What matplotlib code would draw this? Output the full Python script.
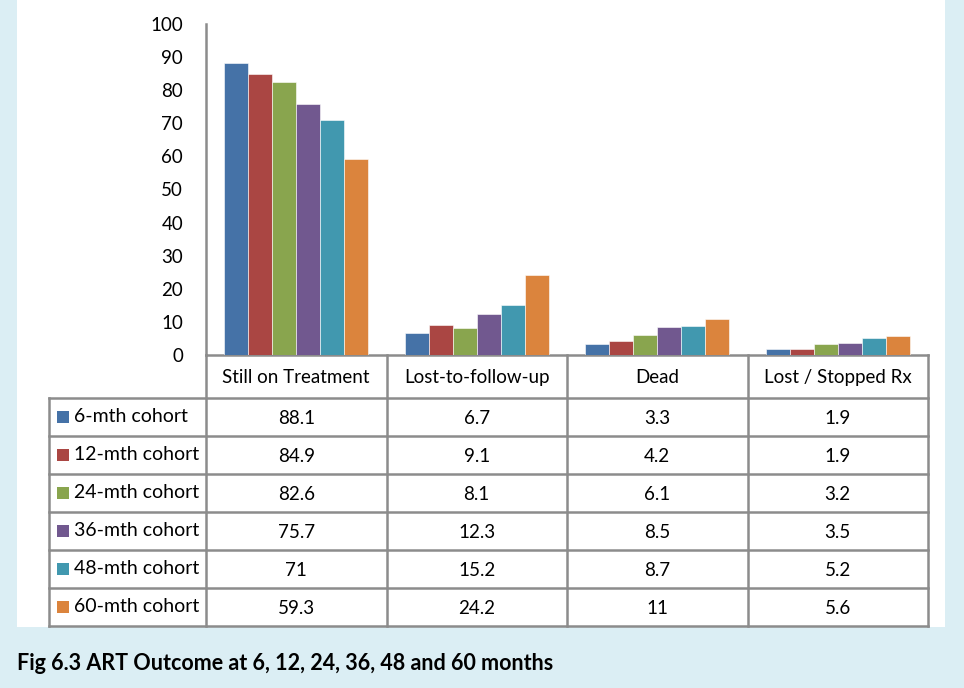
import matplotlib.pyplot as plt
from matplotlib.patches import Rectangle
from matplotlib.lines import Line2D

categorias = ["Still on Treatment", "Lost-to-follow-up", "Dead", "Lost / Stopped Rx"]
cohortes = ["6-mth cohort", "12-mth cohort", "24-mth cohort",
            "36-mth cohort", "48-mth cohort", "60-mth cohort"]
valores = [
    [88.1, 6.7, 3.3, 1.9],
    [84.9, 9.1, 4.2, 1.9],
    [82.6, 8.1, 6.1, 3.2],
    [75.7, 12.3, 8.5, 3.5],
    [71, 15.2, 8.7, 5.2],
    [59.3, 24.2, 11, 5.6],
]
colores = ["#4572A7", "#AA4643", "#89A54E", "#71588F", "#4198AF", "#DB843D"]
titulo = "Fig 6.3 ART Outcome at 6, 12, 24, 36, 48 and 60 months"

plt.rcParams['font.family'] = ['Lato', 'DejaVu Sans']

W, H = 964, 688
fig = plt.figure(figsize=(W / 100, H / 100), dpi=100)
fig.patch.set_facecolor("#DBEEF4")

# fondo y tabla en coordenadas de pixel
bg = fig.add_axes([0, 0, 1, 1])
bg.set_xlim(0, W)
bg.set_ylim(H, 0)
bg.axis("off")
bg.add_patch(Rectangle((17, 0), 928, 627, facecolor="white", edgecolor="none"))

x0, x1 = 206, 928
y_top, y_cero = 24, 355
ax = fig.add_axes([x0 / W, (H - y_cero) / H, (x1 - x0) / W, (y_cero - y_top) / H])
ax.set_facecolor("none")

n = len(cohortes)
ancho = 1 / 7.5
for i, (serie, color) in enumerate(zip(valores, colores)):
    pos = [j + 0.5 + (i - (n - 1) / 2) * ancho for j in range(len(categorias))]
    ax.bar(pos, serie, width=ancho, color=color, edgecolor="white", linewidth=0.4)

ax.set_xlim(0, len(categorias))
ax.set_ylim(0, 100)
ax.set_yticks(range(0, 101, 10))
ax.set_xticks([])
for s in ["top", "right", "bottom"]:
    ax.spines[s].set_visible(False)
ax.spines["left"].set_color("#8C8C8C")
ax.spines["left"].set_linewidth(1.8)
ax.tick_params(axis="y", length=0, pad=16.5, labelsize=13.5)

# tabla de datos
gris = "#8C8C8C"
cw = (x1 - x0) / len(categorias)
x_ley = 49
y_cab = 398
fila = 38
y_fin = y_cab + fila * n
cols = [x0 + k * cw for k in range(len(categorias) + 1)]

def linea(xs, ys):
    bg.add_line(Line2D(xs, ys, color=gris, linewidth=1.8))

linea([x0, x1], [y_cero, y_cero])
for y in [y_cab + k * fila for k in range(n + 1)]:
    linea([x_ley, x1], [y, y])
for x in cols:
    linea([x, x], [y_cero, y_fin])
linea([x_ley, x_ley], [y_cab, y_fin])

for j, cat in enumerate(categorias):
    bg.text(x0 + (j + 0.5) * cw, (y_cero + y_cab) / 2 + 1, cat,
            ha="center", va="center", fontsize=13.5)

for i, (nombre, serie, color) in enumerate(zip(cohortes, valores, colores)):
    yc = y_cab + (i + 0.5) * fila
    bg.add_patch(Rectangle((57, yc - 6), 12, 12, facecolor=color, edgecolor="none"))
    bg.text(74, yc, nombre, ha="left", va="center", fontsize=14)
    for j, v in enumerate(serie):
        bg.text(x0 + (j + 0.5) * cw, yc + 1, f"{v:g}", ha="center", va="center", fontsize=13.5)

bg.text(17, 663, titulo, ha="left", va="center", fontsize=15.5, fontweight="bold")

plt.savefig("out.png", dpi=100, facecolor=fig.get_facecolor())
